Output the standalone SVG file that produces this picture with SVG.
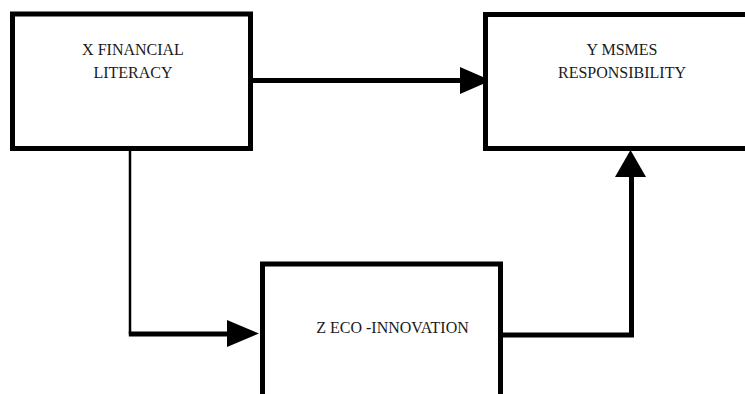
<svg xmlns="http://www.w3.org/2000/svg" width="745" height="394" viewBox="0 0 745 394">
<style>
.box{fill:#fff;stroke:#000;stroke-width:5}
.lbl{font-family:"Liberation Serif","DejaVu Serif",serif;font-size:16px;fill:#1a1a1a;text-anchor:middle}
.thick{fill:none;stroke:#000;stroke-width:5}
.thin{fill:none;stroke:#000;stroke-width:2.5}
.head{fill:#000}
</style>
<rect width="745" height="394" fill="#fff"/>
<g id="connectors">
<path class="thick" d="M250 80.5 H462"/>
<polygon class="head" points="460,67 491,80.5 460,94"/>
<path class="thin" d="M130 150 V334"/>
<path class="thick" d="M128.8 334 H229"/>
<polygon class="head" points="227,320 259,333.5 227,347"/>
<path class="thick" d="M503 335 H631.5 V174"/>
<polygon class="head" points="615,177 630.5,150 646,177"/>
</g>
<g id="nodeX">
<rect class="box" x="12.5" y="14" width="238" height="134.5"/>
<text class="lbl" x="133" y="55">X FINANCIAL</text>
<text class="lbl" x="133" y="78">LITERACY</text>
</g>
<g id="nodeY">
<rect class="box" x="485.5" y="14.5" width="280" height="134"/>
<text class="lbl" x="622" y="55">Y MSMES</text>
<text class="lbl" x="622" y="78">RESPONSIBILITY</text>
</g>
<g id="nodeZ">
<rect class="box" x="262.5" y="264" width="238" height="160"/>
<text class="lbl" x="392.5" y="332.5">Z ECO -INNOVATION</text>
</g>
</svg>
